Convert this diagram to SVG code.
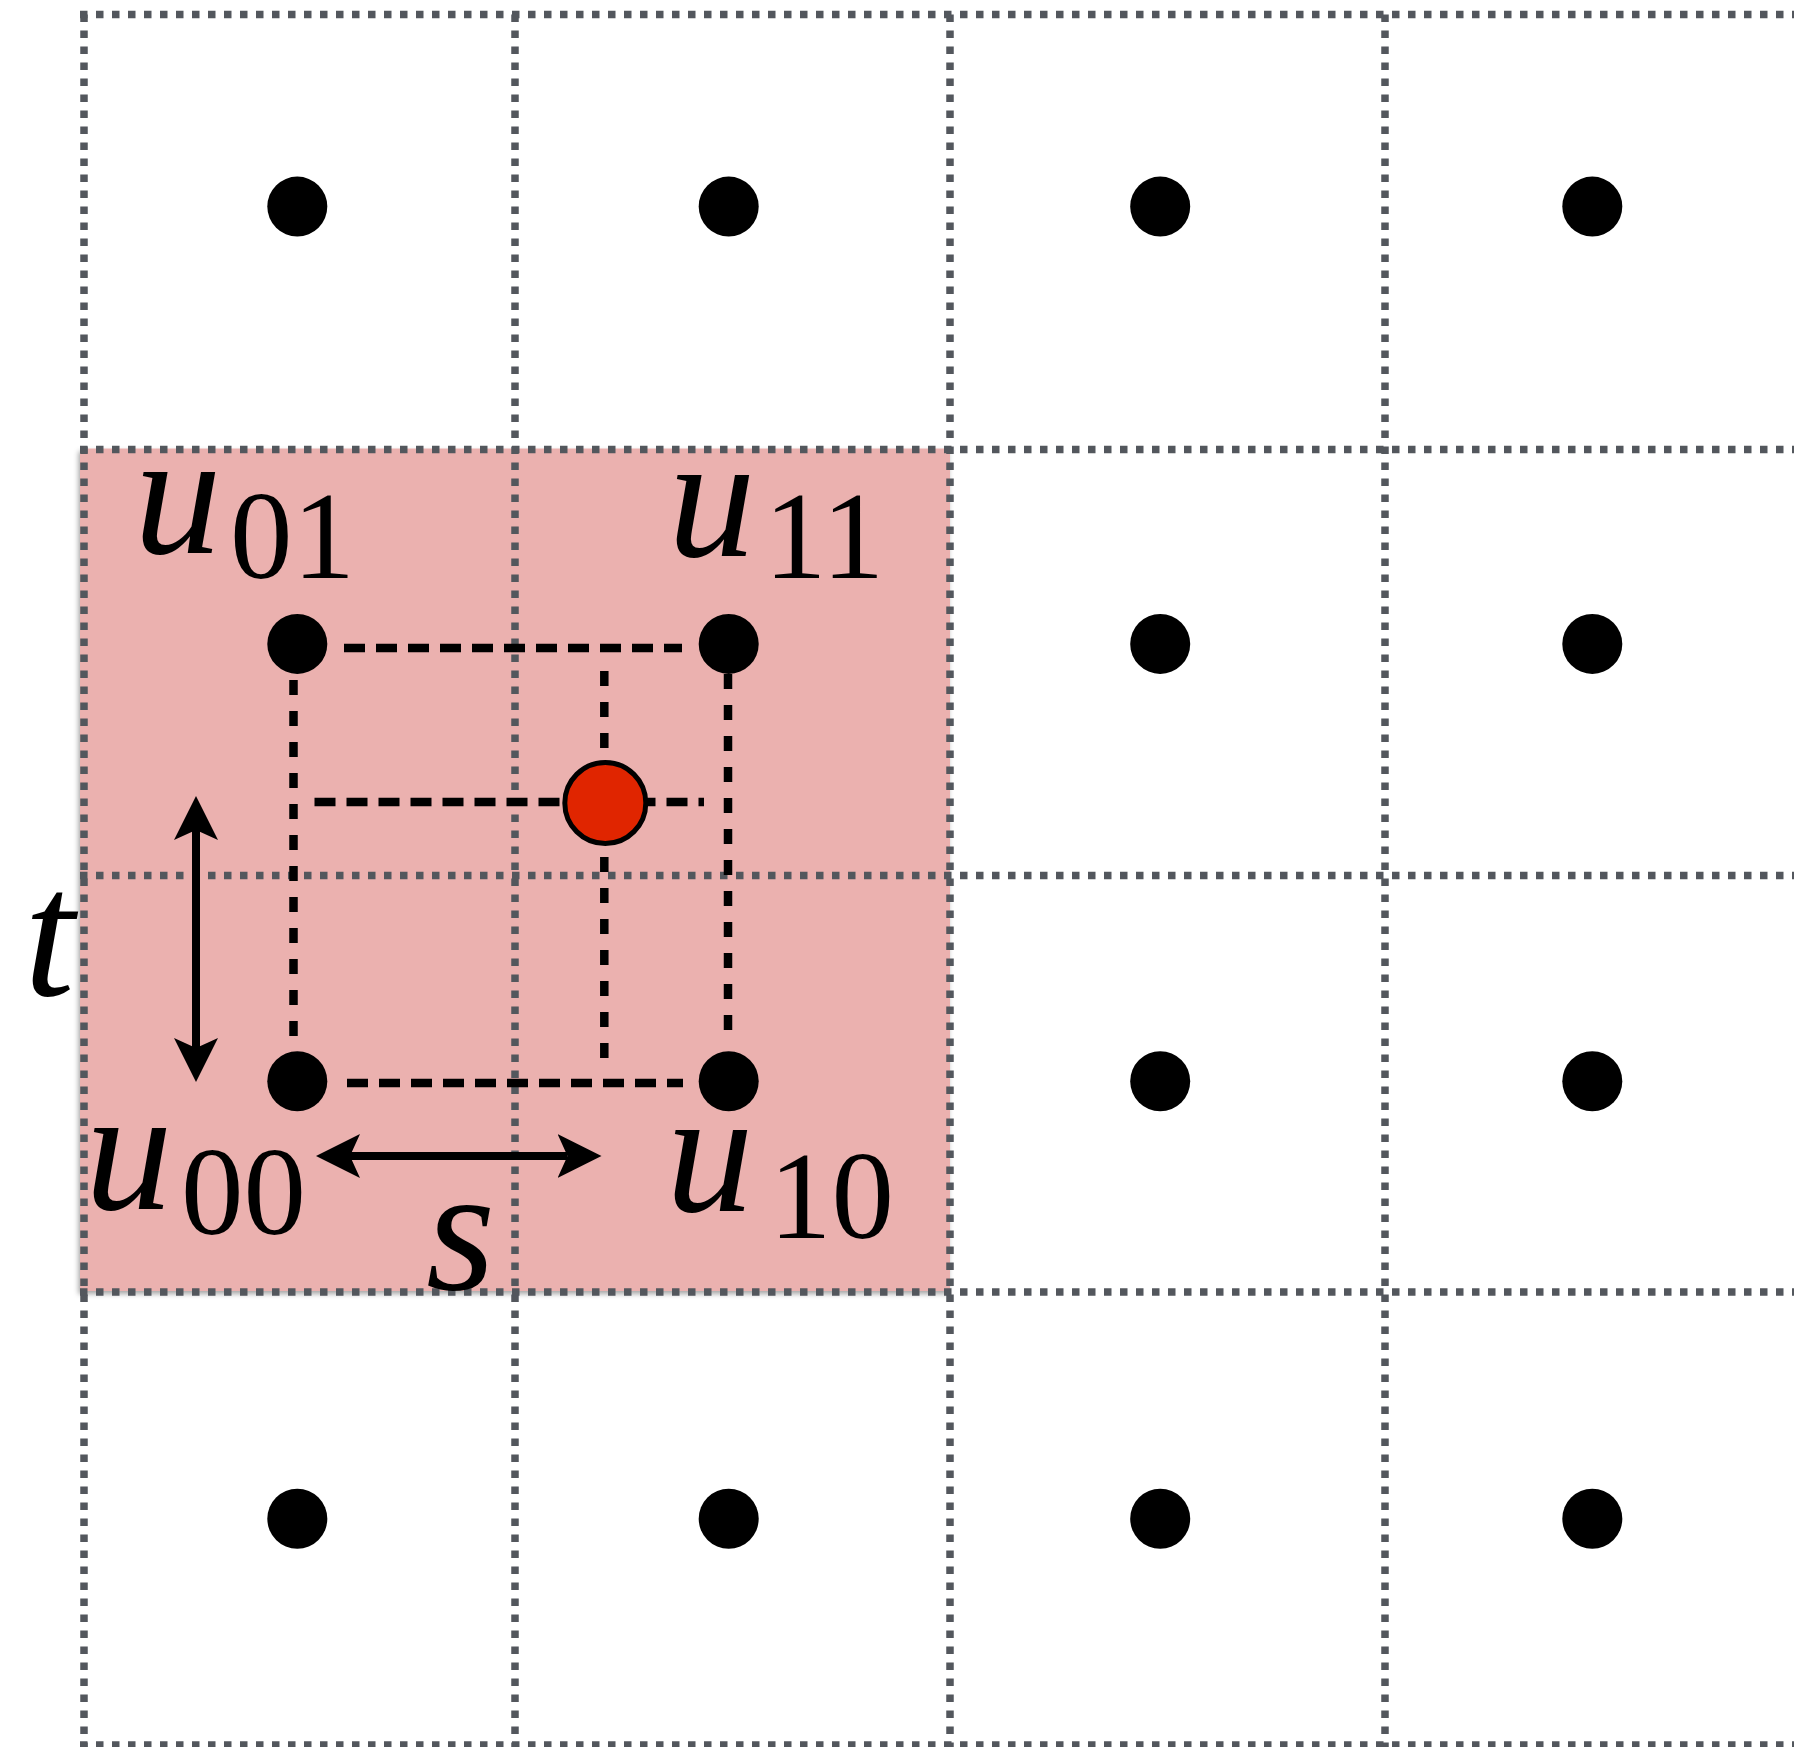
<svg xmlns="http://www.w3.org/2000/svg" width="1794" height="1747" viewBox="0 0 1794 1747">
  <style>
    .grid { stroke: #53575d; stroke-width: 7.5; stroke-dasharray: 7.5 8.5; fill: none; }
    .dh { stroke: #000; stroke-width: 8.5; stroke-dasharray: 21 11; fill: none; }
    .dv { stroke: #000; stroke-width: 8.5; stroke-dasharray: 15 16; fill: none; }
    .dot { fill: #000; }
    .arrow { stroke: #000; stroke-width: 8; fill: none; marker-start: url(#head); marker-end: url(#head); }
    .var { font-family: "Liberation Serif", "DejaVu Serif", serif; font-style: italic; fill: #000; }
    .sub { font-family: "Liberation Serif", "DejaVu Serif", serif; font-style: normal; fill: #000; }
  </style>
  <defs>
    <marker id="head" viewBox="0 0 44 44" refX="10" refY="22" markerWidth="44" markerHeight="44" markerUnits="userSpaceOnUse" orient="auto-start-reverse">
      <path d="M44,22 L0,0 L10,22 L0,44 Z" fill="#000"/>
    </marker>
    <filter id="shadow" x="-5%" y="-5%" width="110%" height="110%">
      <feDropShadow dx="-1.5" dy="3" stdDeviation="2.5" flood-color="#000" flood-opacity="0.35"/>
    </filter>
  </defs>
  <rect width="1794" height="1747" fill="#fff"/>

  <g id="region">
    <rect x="80" y="448.5" width="870" height="842.5" fill="#ebb1af" filter="url(#shadow)"/>
  </g>

  <g id="grid">
    <line class="grid" x1="84" y1="14.5" x2="84" y2="1747"/>
    <line class="grid" x1="515" y1="14.5" x2="515" y2="1747"/>
    <line class="grid" x1="950" y1="14.5" x2="950" y2="1747"/>
    <line class="grid" x1="1385" y1="14.5" x2="1385" y2="1747"/>
    <line class="grid" x1="80" y1="14.5" x2="1794" y2="14.5"/>
    <line class="grid" x1="80" y1="449.5" x2="1794" y2="449.5"/>
    <line class="grid" x1="80" y1="875.5" x2="1794" y2="875.5"/>
    <line class="grid" x1="80" y1="1292" x2="1794" y2="1292"/>
    <line class="grid" x1="80" y1="1745" x2="1794" y2="1745"/>
  </g>

  <g id="connectors">
    <line class="dh" x1="344" y1="648" x2="682" y2="648"/>
    <line class="dh" x1="347" y1="1083" x2="683" y2="1083"/>
    <line class="dh" x1="314.5" y1="802" x2="704" y2="802"/>
    <line class="dv" x1="293.5" y1="680" x2="293.5" y2="1048"/>
    <line class="dv" x1="728" y1="674" x2="728" y2="1040"/>
    <line class="dv" x1="604.3" y1="671" x2="604.3" y2="1070"/>
    <line id="arrow-t" class="arrow" x1="196" y1="830" x2="196" y2="1048"/>
    <line id="arrow-s" class="arrow" x1="350" y1="1156" x2="567.5" y2="1156"/>
  </g>

  <g id="dots">
    <circle class="dot" cx="297.3" cy="206.6" r="30"/>
    <circle class="dot" cx="728.7" cy="206.6" r="30"/>
    <circle class="dot" cx="1160.2" cy="206.6" r="30"/>
    <circle class="dot" cx="1592.3" cy="206.6" r="30"/>
    <circle class="dot" cx="297.3" cy="643.9" r="30"/>
    <circle class="dot" cx="728.7" cy="643.9" r="30"/>
    <circle class="dot" cx="1160.2" cy="643.9" r="30"/>
    <circle class="dot" cx="1592.3" cy="643.9" r="30"/>
    <circle class="dot" cx="297.3" cy="1081.2" r="30"/>
    <circle class="dot" cx="728.7" cy="1081.2" r="30"/>
    <circle class="dot" cx="1160.2" cy="1081.2" r="30"/>
    <circle class="dot" cx="1592.3" cy="1081.2" r="30"/>
    <circle class="dot" cx="297.3" cy="1518.8" r="30"/>
    <circle class="dot" cx="728.7" cy="1518.8" r="30"/>
    <circle class="dot" cx="1160.2" cy="1518.8" r="30"/>
    <circle class="dot" cx="1592.3" cy="1518.8" r="30"/>
  </g>

  <g id="sample">
    <circle cx="605.3" cy="803" r="40.5" fill="#e02500" stroke="#000" stroke-width="5"/>
  </g>

  <g id="labels">
    <text id="u01"><tspan class="var" x="134" y="553" font-size="175">u</tspan><tspan class="sub" x="230" y="578" font-size="125">01</tspan></text>
    <text id="u11"><tspan class="var" x="668" y="556" font-size="175">u</tspan><tspan class="sub" x="764" y="578" font-size="125">11</tspan></text>
    <text id="u00"><tspan class="var" x="85" y="1209" font-size="175">u</tspan><tspan class="sub" x="181" y="1234" font-size="125">00</tspan></text>
    <text id="u10"><tspan class="var" x="666" y="1211" font-size="175">u</tspan><tspan class="sub" x="769" y="1238" font-size="125">10</tspan></text>
    <text id="s" class="var" x="426" y="1289" font-size="178">s</text>
    <text id="t" class="var" x="24" y="995" font-size="182">t</text>
  </g>
</svg>
